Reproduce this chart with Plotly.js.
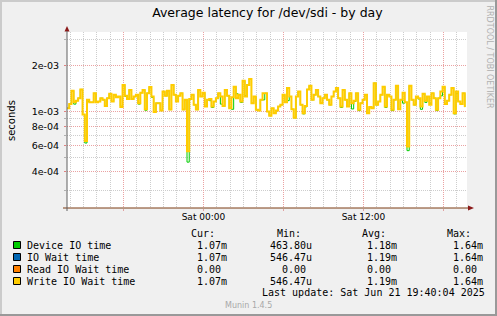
<!DOCTYPE html>
<html><head><meta charset="utf-8">
<script src="https://cdn.plot.ly/plotly-3.0.1.min.js"></script>
<style>html,body{margin:0;padding:0;background:#f0f0f0;overflow:hidden}#chart{width:497px;height:316px}</style>
</head><body><div id="chart"></div>
<script>
// ---- data (seconds), one value per 10-minute sample ----
const sampleStartUTC = Date.UTC(2025, 5, 20, 13, 46, 0);
const sampleMinutes = 10;

const writeIoWaitTime = [
0.00105,0.00112,0.00137,0.00115,0.00118,0.001225,0.00140,0.000955,0.00064,0.001195,
0.00115,0.00115,0.00132,0.00115,0.001165,0.001225,0.001195,0.00109,0.001225,0.00131,
0.001165,0.00129,0.001245,0.001256,0.00107,0.00150,0.00127,0.00121,0.00139,0.00121,
0.001256,0.00129,0.001136,0.00133,0.00139,0.001035,0.00132,0.00145,0.001256,0.000995,
0.001136,0.001136,0.001015,0.001356,0.00127,0.00137,0.00103,0.00150,0.00129,0.001165,
0.00127,0.00132,0.00103,0.001195,0.0005465,0.00121,0.00129,0.001107,0.00103,0.00139,
0.001256,0.00133,0.00108,0.001195,0.00121,0.00108,0.001165,0.001225,0.00132,0.001256,
0.00109,0.00139,0.00127,0.00105,0.001245,0.00146,0.001225,0.00129,0.001165,0.00160,
0.001256,0.00150,0.00164,0.001136,0.001256,0.001026,0.001015,0.001195,0.00132,0.00132,
0.00100,0.00094,0.00105,0.000976,0.001015,0.00108,0.001107,0.00129,0.00115,0.00143,
0.001256,0.001035,0.00091,0.001256,0.001356,0.001107,0.000976,0.00109,0.00140,0.00148,
0.001195,0.00129,0.00139,0.001256,0.001136,0.001225,0.00129,0.001195,0.001107,0.001256,
0.001356,0.00143,0.001225,0.00108,0.00139,0.001195,0.00108,0.00132,0.001136,0.00118,
0.00132,0.001026,0.001136,0.001195,0.00129,0.000976,0.00107,0.00105,0.00154,0.001107,
0.001165,0.00129,0.00146,0.00108,0.00129,0.001256,0.001026,0.001195,0.00148,0.001035,
0.001195,0.00133,0.00115,0.000587,0.00148,0.001195,0.001107,0.001256,0.001225,0.00108,
0.00131,0.00118,0.001256,0.001107,0.00132,0.001225,0.001026,0.001225,0.001356,0.00146,
0.00112,0.00118,0.00129,0.00143,0.000976,0.001356,0.001165,0.00112,0.00132,0.00107
];

const deviceIoTime = [
0.00105,0.00112,0.00137,0.00112,0.00118,0.001225,0.00140,0.000955,0.00062,0.00117,
0.00115,0.00115,0.00132,0.00115,0.001165,0.001225,0.001195,0.00109,0.001225,0.00131,
0.001165,0.00129,0.001245,0.001256,0.001085,0.00150,0.00126,0.00121,0.00139,0.00121,
0.001256,0.00129,0.00112,0.00133,0.00139,0.00102,0.00132,0.00145,0.00124,0.000995,
0.001136,0.001136,0.001015,0.001356,0.00127,0.00137,0.00103,0.00150,0.00129,0.001165,
0.00127,0.00132,0.00103,0.001195,0.0004638,0.00121,0.00129,0.001107,0.00103,0.00139,
0.001256,0.00133,0.00108,0.001195,0.00118,0.001065,0.001165,0.001225,0.00132,0.00112,
0.00109,0.00139,0.00127,0.00105,0.001035,0.00146,0.00131,0.00129,0.00115,0.00160,
0.001275,0.00150,0.00164,0.001136,0.001256,0.001026,0.001015,0.001195,0.001195,0.00132,
0.00100,0.00094,0.00105,0.000976,0.001015,0.00108,0.001107,0.00129,0.00115,0.00118,
0.001256,0.001035,0.00091,0.001256,0.001356,0.001107,0.000965,0.001075,0.00140,0.00148,
0.001195,0.00129,0.00139,0.001256,0.001136,0.001225,0.00129,0.001195,0.001107,0.001256,
0.001356,0.00139,0.001225,0.001065,0.00139,0.001195,0.00108,0.00132,0.00104,0.001165,
0.00132,0.001015,0.001136,0.001195,0.00129,0.000976,0.00107,0.00105,0.00154,0.001107,
0.001165,0.00129,0.00146,0.001065,0.00129,0.001256,0.001015,0.001195,0.00148,0.001035,
0.001195,0.001136,0.00115,0.000552,0.00148,0.001195,0.001107,0.001256,0.00121,0.001035,
0.00131,0.00115,0.001256,0.001136,0.00132,0.001225,0.001015,0.001225,0.00127,0.00146,
0.00112,0.00118,0.00129,0.00143,0.000965,0.00132,0.001165,0.00112,0.00132,0.00107
];

const seriesNames = ['Device IO time', 'IO Wait time', 'Read IO Wait time', 'Write IO Wait time'];
const seriesColors = ['#00CC00', '#0066B3', '#FF8000', '#FFCC00'];
const curValues = ['1.07m', '1.07m', '0.00', '1.07m'];
const minValues = ['463.80u', '546.47u', '0.00', '546.47u'];
const avgValues = ['1.18m', '1.19m', '0.00', '1.19m'];
const maxValues = ['1.64m', '1.64m', '0.00', '1.64m'];
const columnHeaders = ['Cur:', 'Min:', 'Avg:', 'Max:'];

const yTickVals = [4e-4, 6e-4, 8e-4, 1e-3, 2e-3];
const yTickText = ['4e-04', '6e-04', '8e-04', '1e-03', '2e-03'];
const yMinorVals = [3e-4, 5e-4, 7e-4, 9e-4, 3e-3];
const xTickVals = ['2025-06-20 18:00', '2025-06-21 00:00', '2025-06-21 06:00', '2025-06-21 12:00', '2025-06-21 18:00'];
const xTickText = ['', 'Sat 00:00', '', 'Sat 12:00', ''];

const titleText = 'Average latency for /dev/sdi - by day';
const lastUpdate = 'Last update: Sat Jun 21 19:40:04 2025';

// ---- helpers ----
function ts(i) {
  return new Date(sampleStartUTC + i * sampleMinutes * 60000).toISOString().slice(0, 19).replace('T', ' ');
}
const times = writeIoWaitTime.map((_, i) => ts(i));

// plot area in pixels
const PL = 67, PR = 467, PT = 32, PB = 208;
const X = px => (px - PL) / (PR - PL);
const Y = py => (PB - py) / (PB - PT);

const traces = [
  {x: times, y: deviceIoTime, type: 'scatter', mode: 'lines', line: {color: seriesColors[0], width: 1, shape: 'hv'}, name: seriesNames[0]},
  {x: times, y: writeIoWaitTime, type: 'scatter', mode: 'lines', line: {color: seriesColors[3], width: 2, shape: 'hv'}, name: seriesNames[3]}
];

const mono = {family: 'DejaVu Sans Mono', size: 10, color: '#000'};
const ann = [];
// y axis title
ann.push({text: 'seconds', x: X(11), y: Y(120), xref: 'paper', yref: 'paper', showarrow: false, textangle: -90,
  font: {family: 'DejaVu Sans', size: 10, color: '#000'}, xanchor: 'center', yanchor: 'middle'});
// rrdtool credit
ann.push({text: 'RRDTOOL / TOBI OETIKER', x: X(489), y: Y(56.5), xref: 'paper', yref: 'paper', showarrow: false, textangle: 90,
  font: {family: 'DejaVu Sans', size: 8, color: '#b0b0b0'}, xanchor: 'center', yanchor: 'middle'});
// legend
const rowY = [245, 257, 269, 281];
const headerY = 233.5;
const headerX = [190.7, 276.7, 362, 447];
const numEnd = [220.5, 306.3, 390.8, 476.8];
const charW = 6.0;
const cols = [curValues, minValues, avgValues, maxValues];
const shapes = [];
columnHeaders.forEach((h, c) => ann.push({text: h, x: X(headerX[c] - 1), y: Y(headerY), xref: 'paper', yref: 'paper', showarrow: false,
  xanchor: 'left', yanchor: 'middle', font: mono, borderpad: 0}));
seriesNames.forEach((name, r) => {
  ann.push({text: name, x: X(26.7 - 1), y: Y(rowY[r]), xref: 'paper', yref: 'paper', showarrow: false, xanchor: 'left', yanchor: 'middle', font: mono, borderpad: 0});
  cols.forEach((col, c) => {
    const t = col[r];
    const numLen = t.replace(/[mu]$/, '').length;
    ann.push({text: t, x: X(numEnd[c] - charW * numLen - 1), y: Y(rowY[r]), xref: 'paper', yref: 'paper', showarrow: false,
      xanchor: 'left', yanchor: 'middle', font: mono, borderpad: 0});
  });
  shapes.push({type: 'rect', xref: 'paper', yref: 'paper', x0: X(13.5), x1: X(20.5), y0: Y(rowY[r] + 3.5), y1: Y(rowY[r] - 3.5),
    fillcolor: seriesColors[r], line: {color: '#000', width: 1}, layer: 'above'});
});
ann.push({text: lastUpdate.replace(/ /g, '\u00a0'), x: X(261), y: Y(292.7), xref: 'paper', yref: 'paper', showarrow: false,
  xanchor: 'left', yanchor: 'middle', font: mono, borderpad: 0});
ann.push({text: 'Munin 1.4.5', x: X(248.3), y: Y(305), xref: 'paper', yref: 'paper', showarrow: false,
  xanchor: 'center', yanchor: 'middle', font: {family: 'DejaVu Sans', size: 8, color: '#a8a8a8'}, borderpad: 0});

// frame shading
shapes.push({type: 'rect', xref: 'paper', yref: 'paper', x0: X(0), x1: X(2), y0: Y(316), y1: Y(0), fillcolor: '#cbcbcb', line: {width: 0}, layer: 'below'});
shapes.push({type: 'rect', xref: 'paper', yref: 'paper', x0: X(0), x1: X(497), y0: Y(2), y1: Y(0), fillcolor: '#cbcbcb', line: {width: 0}, layer: 'below'});
shapes.push({type: 'rect', xref: 'paper', yref: 'paper', x0: X(495), x1: X(497), y0: Y(316), y1: Y(0), fillcolor: '#999999', line: {width: 0}, layer: 'below'});
shapes.push({type: 'rect', xref: 'paper', yref: 'paper', x0: X(0), x1: X(497), y0: Y(316), y1: Y(314), fillcolor: '#999999', line: {width: 0}, layer: 'below'});
// axis arrows
shapes.push({type: 'path', xref: 'paper', yref: 'paper', fillcolor: '#8b1a1a', line: {width: 0},
  path: `M ${X(67)} ${Y(26)} L ${X(64.5)} ${Y(31.5)} L ${X(69.5)} ${Y(31.5)} Z`, layer: 'above'});
shapes.push({type: 'path', xref: 'paper', yref: 'paper', fillcolor: '#8b1a1a', line: {width: 0},
  path: `M ${X(474)} ${Y(208)} L ${X(468)} ${Y(205.5)} L ${X(468)} ${Y(210.5)} Z`, layer: 'above'});
// small axis extensions
shapes.push({type: 'line', xref: 'paper', yref: 'paper', x0: X(63), x1: X(468), y0: Y(208), y1: Y(208), line: {color: '#7a3a12', width: 1}, layer: 'above'});
shapes.push({type: 'line', xref: 'paper', yref: 'paper', x0: X(67), x1: X(67), y0: Y(211), y1: Y(31), line: {color: '#606060', width: 1}, layer: 'above'});

const layout = {
  width: 497, height: 316, autosize: false,
  margin: {l: PL, r: 497 - PR, t: PT, b: 316 - PB, pad: 0},
  paper_bgcolor: '#f0f0f0', plot_bgcolor: '#ffffff',
  showlegend: false,
  title: {text: titleText, font: {family: 'DejaVu Sans', size: 12.5, color: '#000'},
    x: 267.4 / 497, xref: 'container', xanchor: 'center', y: 1 - 13 / 316, yref: 'container', yanchor: 'middle'},
  xaxis: {
    type: 'date', range: ['2025-06-20 13:46', '2025-06-21 19:46'],
    tickmode: 'array', tickvals: xTickVals, ticktext: xTickText,
    tickfont: {family: 'DejaVu Sans', size: 9, color: '#000'},
    ticks: 'outside', ticklen: 2, tickcolor: '#e0a0a0', ticklabelstandoff: -2,
    showgrid: true, gridcolor: '#eaa2a2', griddash: '1px,1px', gridwidth: 1,
    minor: {tickmode: 'linear', dtick: 3600000, tick0: '2025-06-20 00:00', showgrid: true, gridcolor: '#cdcdcd', griddash: '1px,1px', gridwidth: 1, ticks: ''},
    showline: false, zeroline: false, fixedrange: true
  },
  yaxis: {
    type: 'log', range: [Math.log10(2.31e-4), Math.log10(3.35e-3)],
    tickmode: 'array', tickvals: yTickVals, ticktext: yTickText,
    tickfont: {family: 'DejaVu Sans', size: 9.5, color: '#000'},
    ticks: 'outside', ticklen: 2, tickcolor: '#e08080', ticklabelstandoff: 3,
    showgrid: true, gridcolor: '#eaa2a2', griddash: '1px,1px', gridwidth: 1,
    minor: {tickmode: 'array', tickvals: yMinorVals, showgrid: true, gridcolor: '#cdcdcd', griddash: '1px,1px', gridwidth: 1, ticks: 'outside', ticklen: 2, tickcolor: '#b0b0b0'},
    showline: false, zeroline: false, fixedrange: true
  },
  annotations: ann,
  shapes: shapes
};

Plotly.newPlot('chart', traces, layout, {staticPlot: true, displayModeBar: false});
</script>
</body></html>
